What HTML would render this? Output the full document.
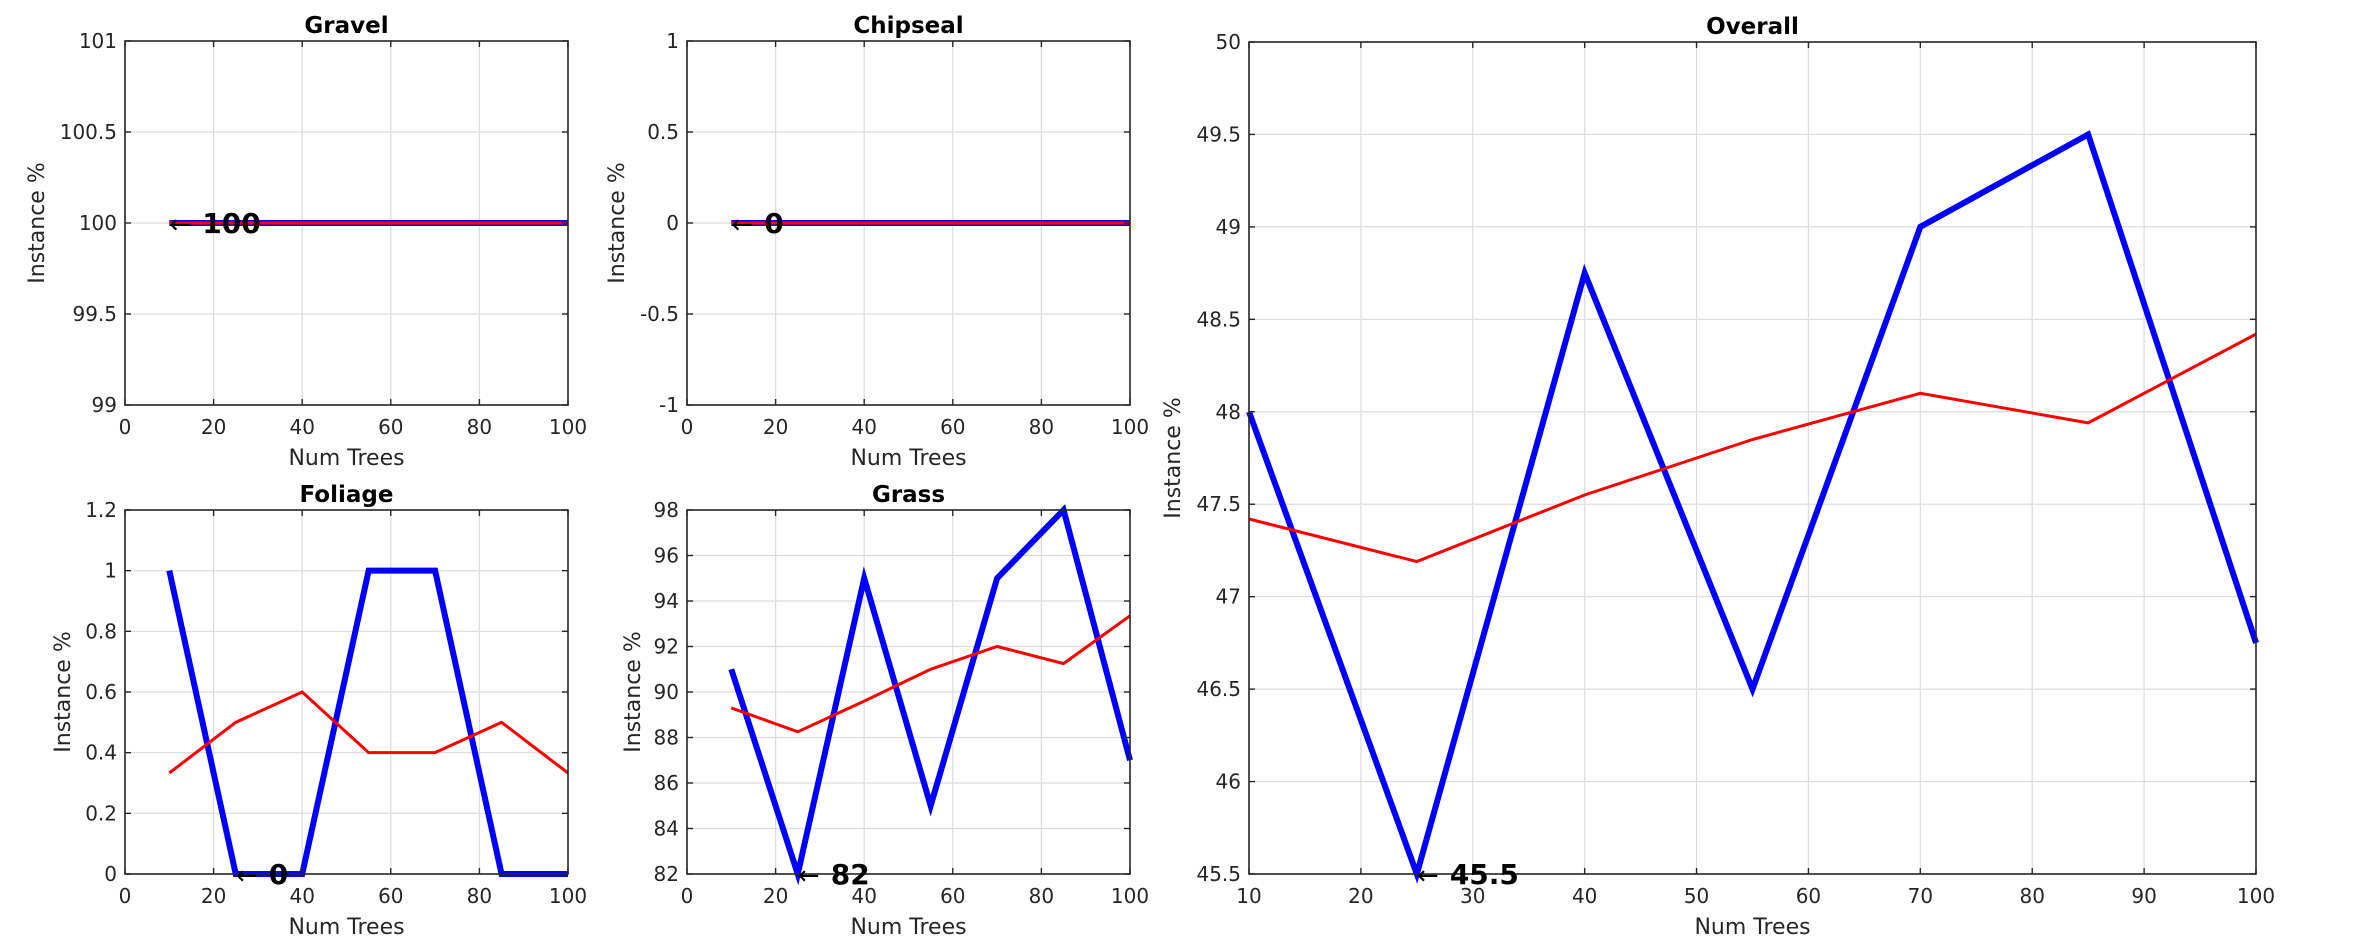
<!DOCTYPE html>
<html><head><meta charset="utf-8"><style>
html,body{margin:0;padding:0;background:#fff;}
svg{display:block;font-family:"DejaVu Sans","Liberation Sans",sans-serif;}
</style></head><body>
<svg id="chart" width="2368" height="947" viewBox="0 0 2368 947" xmlns="http://www.w3.org/2000/svg"></svg>
<script>
const xTrees = [10,25,40,55,70,85,100];
const gravelBlue = [100,100,100,100,100,100,100];
const gravelRed = [100,100,100,100,100,100,100];
const chipBlue = [0,0,0,0,0,0,0];
const chipRed = [0,0,0,0,0,0,0];
const foliageBlue = [1,0,0,1,1,0,0];
const foliageRed = [0.333,0.5,0.6,0.4,0.4,0.5,0.333];
const grassBlue = [91,82,95,85,95,98,87];
const grassRed = [89.3,88.25,89.6,91,92,91.25,93.35];
const overallBlue = [48,45.5,48.75,46.5,49,49.5,46.75];
const overallRed = [47.42,47.19,47.55,47.85,48.1,47.94,48.42];
const xTicks06 = [0,20,40,60,80,100];
const xTicksOverall = [10,20,30,40,50,60,70,80,90,100];
const gravelYTicks = [99,99.5,100,100.5,101];
const chipYTicks = [-1,-0.5,0,0.5,1];
const foliageYTicks = [0,0.2,0.4,0.6,0.8,1,1.2];
const grassYTicks = [82,84,86,88,90,92,94,96,98];
const overallYTicks = [45.5,46,46.5,47,47.5,48,48.5,49,49.5,50];

const NS = "http://www.w3.org/2000/svg";
const svg = document.getElementById('chart');
function mk(tag, attrs, parent){const e=document.createElementNS(NS,tag);for(const k in attrs)e.setAttribute(k,attrs[k]);(parent||svg).appendChild(e);return e;}

function panel(cfg){
  const g = mk('g',{});
  
  
  const {x0,x1,y0,y1,xmin,xmax,ymin,ymax} = cfg;
  const sx = v => x0 + (v-xmin)/(xmax-xmin)*(x1-x0);
  const sy = v => y1 - (v-ymin)/(ymax-ymin)*(y1-y0);
  cfg.xTicks.forEach(t=>{
    const l = mk('line',{x1:sx(t),x2:sx(t),y1:y0,y2:y1,stroke:'#dcdcdc','stroke-width':1.2},g);
    
    
  });
  cfg.yTicks.forEach(t=>{
    const l = mk('line',{x1:x0,x2:x1,y1:sy(t),y2:sy(t),stroke:'#dcdcdc','stroke-width':1.2},g);
    
    
  });
  const line = (vals,color,w,nm)=>{
    const pts = xTrees.map((x,i)=>sx(x)+','+sy(vals[i])).join(' ');
    const p = mk('polyline',{points:pts,fill:'none',stroke:color,'stroke-width':w,'stroke-linejoin':'miter','stroke-miterlimit':10},g);
    
    
  };
  line(cfg.blue,'#0000ff',6,cfg.name+'-blue-series');
  line(cfg.red,'#ff0000',3,cfg.name+'-red-series');
  const r = mk('rect',{x:x0,y:y0,width:x1-x0,height:y1-y0,fill:'none',stroke:'#262626','stroke-width':1.6},g);
  
  
  cfg.xTicks.forEach(t=>{
    mk('line',{x1:sx(t),x2:sx(t),y1:y1,y2:y1-6,stroke:'#262626','stroke-width':1.4},g);
    mk('line',{x1:sx(t),x2:sx(t),y1:y0,y2:y0+6,stroke:'#262626','stroke-width':1.4},g);
    const tx = mk('text',{x:sx(t),y:y1+29,'text-anchor':'middle','font-size':20,fill:'#262626'},g);
    
    
    tx.textContent = t;
  });
  cfg.yTicks.forEach(t=>{
    mk('line',{x1:x0,x2:x0+6,y1:sy(t),y2:sy(t),stroke:'#262626','stroke-width':1.4},g);
    mk('line',{x1:x1,x2:x1-6,y1:sy(t),y2:sy(t),stroke:'#262626','stroke-width':1.4},g);
    const tx = mk('text',{x:x0-8,y:sy(t)+7,'text-anchor':'end','font-size':20,fill:'#262626'},g);
    
    
    tx.textContent = t;
  });
  const ti = mk('text',{x:(x0+x1)/2,y:y0-8,'text-anchor':'middle','font-size':23,'font-weight':'bold',fill:'#000'},g);
  
  
  ti.textContent = cfg.title;
  const xl = mk('text',{x:(x0+x1)/2,y:y1+60,'text-anchor':'middle','font-size':22,fill:'#262626'},g);
  
  
  xl.textContent = 'Num Trees';
  const yl = mk('text',{x:0,y:0,'text-anchor':'middle','font-size':22,fill:'#262626',transform:`translate(${cfg.ylx},${(y0+y1)/2}) rotate(-90)`},g);
  
  
  yl.textContent = 'Instance %';
  let mi = 0; cfg.blue.forEach((v,i)=>{if(v<cfg.blue[mi])mi=i;});
  const ax = sx(xTrees[mi]), ay = sy(cfg.blue[mi]);
  const an = mk('text',{x:ax,y:ay+10,'font-size':28,fill:'#000'},g);
  
  
  const a1 = mk('tspan',{'font-weight':'normal','font-size':26},an); a1.textContent='\u2190\u2009';
  const a2 = mk('tspan',{'font-weight':'bold','dx':6},an); a2.textContent=String(cfg.blue[mi]);
}

panel({name:'gravel',title:'Gravel',x0:125,x1:568,y0:41,y1:405,xmin:0,xmax:100,ymin:99,ymax:101,xTicks:xTicks06,yTicks:gravelYTicks,blue:gravelBlue,red:gravelRed,ylx:44});
panel({name:'chipseal',title:'Chipseal',x0:687,x1:1130,y0:41,y1:405,xmin:0,xmax:100,ymin:-1,ymax:1,xTicks:xTicks06,yTicks:chipYTicks,blue:chipBlue,red:chipRed,ylx:624});
panel({name:'foliage',title:'Foliage',x0:125,x1:568,y0:510,y1:874,xmin:0,xmax:100,ymin:0,ymax:1.2,xTicks:xTicks06,yTicks:foliageYTicks,blue:foliageBlue,red:foliageRed,ylx:70});
panel({name:'grass',title:'Grass',x0:687,x1:1130,y0:510,y1:874,xmin:0,xmax:100,ymin:82,ymax:98,xTicks:xTicks06,yTicks:grassYTicks,blue:grassBlue,red:grassRed,ylx:640});
panel({name:'overall',title:'Overall',x0:1249,x1:2256,y0:42,y1:874,xmin:10,xmax:100,ymin:45.5,ymax:50,xTicks:xTicksOverall,yTicks:overallYTicks,blue:overallBlue,red:overallRed,ylx:1180});
</script>
</body></html>
